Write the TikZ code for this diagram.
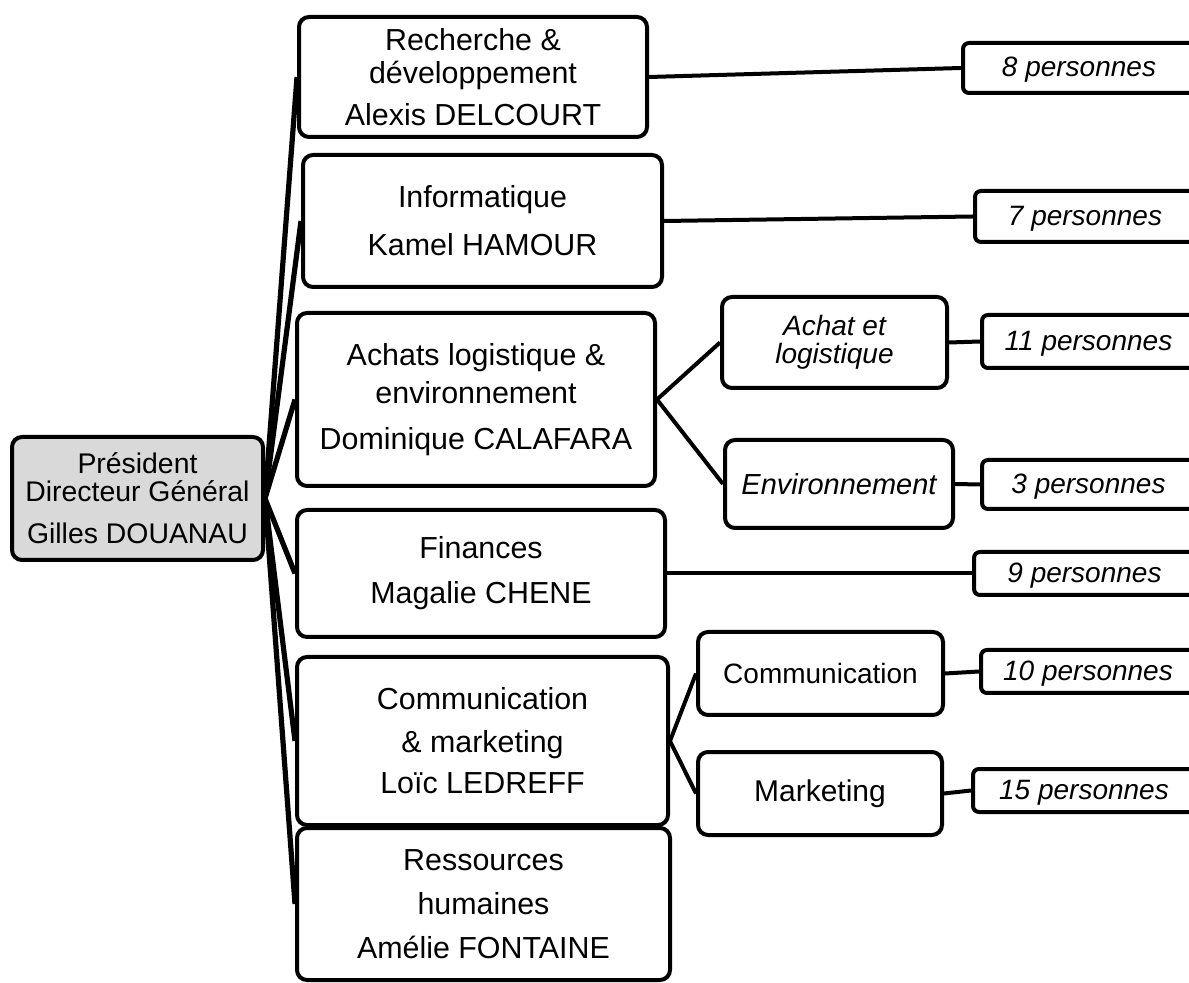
\documentclass[tikz,border=0pt]{standalone}
\usepackage{fontspec}
\setmainfont{Liberation Sans}
\usetikzlibrary{positioning}

\begin{document}
\begin{tikzpicture}[x=0.5pt,y=-0.5pt,
	dept/.style={draw,line width=2pt,rounded corners=5pt,align=center,inner sep=0pt,font=\fontsize{15.2}{17}\selectfont},
	sub/.style={draw,line width=2pt,rounded corners=5pt,align=center,inner sep=0pt,font=\fontsize{14}{14}\selectfont},
	effectif/.style={draw,line width=2pt,rounded corners=3pt,inner sep=0pt,text height=11pt,text depth=2pt,font=\fontsize{14}{14}\selectfont\itshape},
	lien/.style={line width=2pt}]
				\useasboundingbox (0,0) rectangle (1189,983);
				\clip (0,0) rectangle (1189,983);
				
				\node[dept,fill=gray!30,minimum width=125.5pt,minimum height=61.5pt,font=\fontsize{14.2}{14}\selectfont] (pdg) at (137.5,498.5) {Président\\Directeur Général\\[7pt]Gilles DOUANAU};
				
				\node[dept,minimum width=174pt,minimum height=60pt,font=\fontsize{15.2}{16.5}\selectfont] (rd) at (473,77) {Recherche \&\\développement\\[4.5pt]Alexis DELCOURT};
				\node[dept,minimum width=179.5pt,minimum height=66pt] (info) at (482.5,221) {Informatique\\[7pt]Kamel HAMOUR};
				\node[dept,minimum width=179pt,minimum height=86.5pt] (achats) at (476,399.5) {Achats logistique \&\\[2pt]environnement\\[6pt]Dominique CALAFARA};
				\node[dept,minimum width=184pt,minimum height=63.5pt] (fin) at (481,573.5) {Finances\\[5.5pt]Magalie CHENE};
				\node[dept,minimum width=185.5pt,minimum height=84pt] (com) at (482.5,741) {Communication\\[4.5pt]\& marketing\\[3.5pt]Loïc LEDREFF};
				\node[dept,minimum width=186.5pt,minimum height=76pt] (rh) at (483.5,904) {Ressources\\[5pt]humaines\\[5pt]Amélie FONTAINE};
				
				\node[sub,minimum width=112.5pt,minimum height=45.5pt,font=\fontsize{14}{14}\selectfont\itshape] (achat) at (834.5,342.5) {Achat et\\logistique};
				\node[sub,minimum width=114pt,minimum height=44pt,font=\fontsize{14.5}{14}\selectfont\itshape] (env) at (839,484) {Environnement};
				\node[sub,minimum width=122.5pt,minimum height=41.5pt] (comsub) at (820.5,673.5) {Communication};
				\node[sub,minimum width=122pt,minimum height=41.5pt,font=\fontsize{15}{15}\selectfont] (mkt) at (820,793.5) {Marketing};
				
				\node[effectif,minimum width=116pt,minimum height=25pt] (p8) at (1079,68) {8 personnes};
				\node[effectif,minimum width=110pt,minimum height=25.5pt] (p7) at (1085,216.5) {7 personnes};
				\node[effectif,minimum width=106.5pt,minimum height=26.5pt] (p11) at (1088.5,341.5) {11 personnes};
				\node[effectif,minimum width=106.5pt,minimum height=24.5pt] (p3) at (1088.5,484.5) {3 personnes};
				\node[effectif,minimum width=110.5pt,minimum height=21.5pt] (p9) at (1084.5,573.5) {9 personnes};
				\node[effectif,minimum width=107pt,minimum height=21.5pt] (p10) at (1088,671.5) {10 personnes};
				\node[effectif,minimum width=111pt,minimum height=21.5pt] (p15) at (1084,790.5) {15 personnes};
				
				\foreach \d in {rd,info,achats,fin,com,rh}
					\draw[lien,line width=2.6pt] (pdg.east) -- (\d.west);
				
				\draw[lien] (rd.east) -- (p8.west);
				\draw[lien] (info.east) -- (p7.west);
				\draw[lien] (achats.east) -- (achat.west);
				\draw[lien] (achats.east) -- (env.west);
				\draw[lien] (achat.east) -- (p11.west);
				\draw[lien] (env.east) -- (p3.west);
				\draw[lien] (fin.east) -- (p9.west);
				\draw[lien] (com.east) -- (comsub.west);
				\draw[lien] (com.east) -- (mkt.west);
				\draw[lien] (comsub.east) -- (p10.west);
				\draw[lien] (mkt.east) -- (p15.west);
			\end{tikzpicture}
\end{document}
